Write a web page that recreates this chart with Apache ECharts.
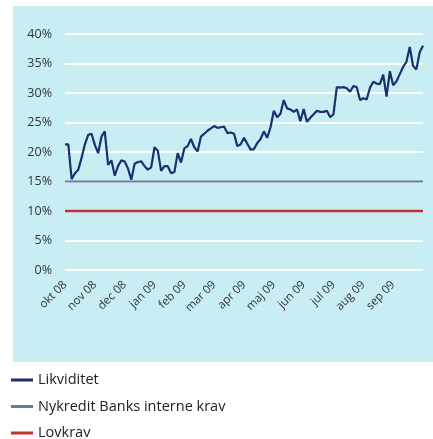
<!DOCTYPE html>
<html>
<head>
<meta charset="utf-8">
<script src="https://cdn.jsdelivr.net/npm/echarts@6/dist/echarts.min.js"></script>
<style>
html,body{margin:0;padding:0;background:#fff;}
#c{width:433px;height:439px;}
</style>
</head>
<body>
<div id="c"></div>
<script>
// Month tick labels (x axis)
var months = ['okt 08','nov 08','dec 08','jan 09','feb 09','mar 09','apr 09','maj 09','jun 09','jul 09','aug 09','sep 09'];
var pointsPerMonth = 9;
// Likviditet (%), 9 readings per month + final reading
var likviditet = [
  21.3,21.3,15.4,16.4,17.0,19.0,21.3,22.9,23.1,
  21.2,19.8,22.6,23.5,17.8,18.6,16.0,17.6,18.6,
  18.4,17.2,15.3,18.0,18.3,18.4,17.6,17.0,17.4,
  20.8,20.2,16.8,17.6,17.6,16.4,16.6,19.8,18.2,
  20.6,21.0,22.2,20.8,20.1,22.6,23.1,23.6,24.0,
  24.4,24.1,24.2,24.3,23.2,23.3,23.1,21.0,21.3,
  22.4,21.4,20.4,20.5,21.5,22.2,23.5,22.4,24.2,
  27.0,25.9,26.5,28.8,27.4,27.2,26.8,27.2,25.2,
  27.3,25.1,25.8,26.4,27.0,26.8,26.8,27.0,25.9,
  26.4,31.0,30.9,31.0,30.8,30.2,31.2,31.0,28.8,
  29.1,28.9,30.9,31.9,31.6,31.5,33.1,29.4,33.7,
  31.3,32.0,33.2,34.4,35.3,37.8,34.6,34.0,36.9,
  38.0
];
var interneKrav = 15;   // Nykredit Banks interne krav (%)
var lovkrav = 10;       // Lovkrav (%)
var yTicks = {min: 0, max: 40, interval: 5};
var seriesNames = ['Likviditet', 'Nykredit Banks interne krav', 'Lovkrav'];

// category axis built from the month labels
var cats = [];
for (var m = 0; m < months.length; m++) {
  for (var k = 0; k < pointsPerMonth; k++) cats.push(months[m] + '|' + k);
}
cats.push('end|0');
var first = cats[0], last = cats[cats.length - 1];

var legendTops = [372, 398.5, 425];
var legends = seriesNames.map(function (n, i) {
  return {
    orient: 'vertical', left: 11, top: legendTops[i], padding: 0,
    itemWidth: 22, itemHeight: 3, itemGap: 5,
    icon: 'rect',
    textStyle: {fontFamily: 'Open Sans', fontSize: 14.5, color: '#222', lineHeight: 16},
    data: [n]
  };
});

var chart = echarts.init(document.getElementById('c'), null, {renderer: 'canvas'});
chart.setOption({
  animation: false,
  backgroundColor: '#ffffff',
  graphic: [{
    type: 'rect', left: 13, top: 6, z: -10,
    shape: {width: 420, height: 356},
    style: {fill: '#c8eef4'}
  }],
  grid: {left: 65, right: 10, top: 34, height: 236},
  legend: legends,
  xAxis: {
    type: 'category', data: cats, boundaryGap: false,
    axisLine: {show: false}, axisTick: {show: false},
    axisLabel: {
      rotate: 45, margin: 13, fontFamily: 'Open Sans', fontSize: 11.5, color: '#333',
      interval: function (idx) { return idx % pointsPerMonth === 0 && idx < cats.length - 1; },
      formatter: function (v) { return v.split('|')[0]; }
    },
    splitLine: {show: false}
  },
  yAxis: {
    type: 'value', min: yTicks.min, max: yTicks.max, interval: yTicks.interval,
    axisLine: {show: false}, axisTick: {show: false},
    axisLabel: {formatter: '{value}%', margin: 13, fontFamily: 'Open Sans', fontSize: 12.5, color: '#333'},
    splitLine: {lineStyle: {color: '#ffffff', width: 2}}
  },
  series: [
    {
      name: seriesNames[0], type: 'line', data: likviditet, symbol: 'none', z: 5,
      lineStyle: {color: '#1c2f6e', width: 2.2}, itemStyle: {color: '#1c2f6e'}
    },
    {
      name: seriesNames[1], type: 'line', symbol: 'none', z: 3,
      data: [[first, interneKrav], [last, interneKrav]],
      lineStyle: {color: '#6a7d98', width: 2}, itemStyle: {color: '#6a7d98'}
    },
    {
      name: seriesNames[2], type: 'line', symbol: 'none', z: 3,
      data: [[first, lovkrav], [last, lovkrav]],
      lineStyle: {color: '#c6302c', width: 2.5}, itemStyle: {color: '#c6302c'}
    }
  ]
});
</script>
</body>
</html>
